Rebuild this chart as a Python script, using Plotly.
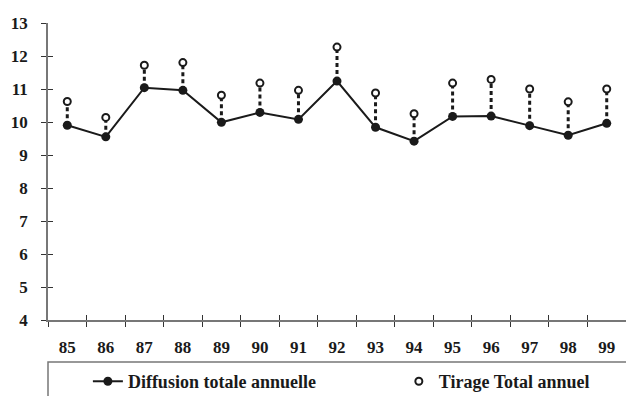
import plotly.graph_objects as go

years = ["85", "86", "87", "88", "89", "90", "91", "92", "93", "94", "95", "96", "97", "98", "99"]
diffusion = [9.90, 9.55, 11.04, 10.96, 9.99, 10.29, 10.08, 11.24, 9.84, 9.42, 10.17, 10.18, 9.89, 9.60, 9.96]
tirage = [10.62, 10.14, 11.72, 11.80, 10.81, 11.18, 10.96, 12.27, 10.88, 10.25, 11.18, 11.29, 11.00, 10.61, 11.00]

FONT = "Liberation Serif, Times New Roman, serif"
INK = "#1a1a1a"
AXIS = "#777"

# vertical dashed connectors between the two series
cx, cy = [], []
for yr, d, t in zip(years, diffusion, tirage):
    cx += [yr, yr, None]
    cy += [d, t, None]

fig = go.Figure()
fig.add_trace(go.Scatter(x=cx, y=cy, mode="lines", showlegend=False, hoverinfo="skip",
                         line=dict(color=INK, width=3, dash="4px,3px")))
fig.add_trace(go.Scatter(x=years, y=diffusion, mode="lines+markers", name="Diffusion totale annuelle",
                         line=dict(color=INK, width=2), legend="legend",
                         marker=dict(symbol="circle", size=9, color=INK)))
fig.add_trace(go.Scatter(x=years, y=tirage, mode="markers", name="Tirage Total annuel",
                         legend="legend2",
                         marker=dict(symbol="circle", size=7, color="white",
                                     line=dict(color=INK, width=2))))

legend_font = dict(family=FONT, size=18, color=INK, weight="bold")
tick_font = dict(family=FONT, size=17, weight="bold", color=INK)
fig.update_layout(
    width=626, height=388,
    margin=dict(l=40, r=8, t=15, b=76, autoexpand=False),
    paper_bgcolor="white", plot_bgcolor="white",
    font=dict(family=FONT, size=17, color=INK),
    showlegend=True,
    legend=dict(orientation="h", x=0.069, xanchor="left", y=-0.145, yanchor="top",
                bgcolor="rgba(0,0,0,0)", borderwidth=0, font=legend_font),
    legend2=dict(orientation="h", x=0.607, xanchor="left", y=-0.145, yanchor="top",
                 bgcolor="rgba(0,0,0,0)", borderwidth=0, font=legend_font),
    xaxis=dict(type="category", categoryorder="array", categoryarray=years,
               range=[-0.5, 14.5], showgrid=False, zeroline=False, automargin=False,
               showline=True, linecolor=AXIS, linewidth=1.5,
               ticks="outside", ticklen=5, tickcolor="#333", tickwidth=1.2,
               tickson="boundaries", ticklabelstandoff=11, tickfont=tick_font),
    yaxis=dict(range=[4, 13], dtick=1, tick0=4, showgrid=False, zeroline=False, automargin=False,
               showline=True, linecolor=AXIS, linewidth=1.5,
               ticks="outside", ticklen=5, tickcolor="#333", tickwidth=1.2,
               ticklabelstandoff=10, tickfont=tick_font),
    xaxis2=dict(overlaying="x", range=[-0.5, 14.5], tick0=-0.5, dtick=1, showgrid=False,
                zeroline=False, showticklabels=False, ticks="inside", ticklen=5, automargin=False,
                tickcolor="#333", tickwidth=1.2, side="bottom", anchor="y"),
    yaxis2=dict(overlaying="y", range=[4, 13], tick0=4, dtick=1, showgrid=False, automargin=False,
                zeroline=False, showticklabels=False, ticks="inside", ticklen=5,
                tickcolor="#333", tickwidth=1.2, side="left", anchor="x"),
    shapes=[
        dict(type="rect", xref="paper", yref="paper", x0=0, x1=1.0087, y0=-0.30, y1=-0.1414,
             line=dict(color=AXIS, width=1.5), fillcolor="rgba(0,0,0,0)", layer="below"),
        dict(type="line", xref="paper", yref="paper", x0=1.0125, x1=1.0125, y0=-0.30, y1=-0.158,
             line=dict(color="black", width=3)),
    ],
)
# invisible trace to activate overlay axes
fig.add_trace(go.Scatter(x=[None], y=[None], xaxis="x2", yaxis="y2", showlegend=False, hoverinfo="skip"))

fig.write_html("out.html")
